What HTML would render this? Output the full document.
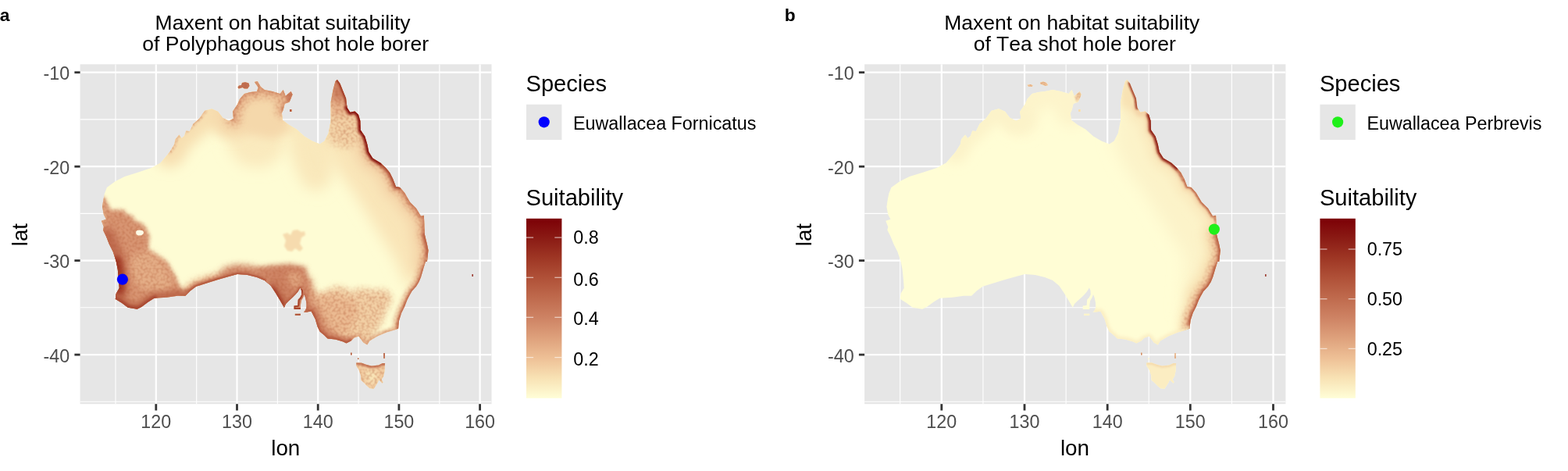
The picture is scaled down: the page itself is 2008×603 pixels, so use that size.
<!DOCTYPE html>
<html lang="en"><head><meta charset="utf-8"><title>Maxent habitat suitability</title>
<style>html,body{margin:0;padding:0;background:#fff}body{width:2008px;height:603px;overflow:hidden}svg{display:block}text{font-family:'Liberation Sans', Arial, Helvetica, sans-serif;font-kerning:none}</style></head><body>
<svg width="2008" height="603" viewBox="0 0 2008 603">
<rect width="2008" height="603" fill="#fff"/>
<defs><linearGradient id="cb" x1="0" y1="0" x2="0" y2="1"><stop offset="0.000" stop-color="#7c0006"/><stop offset="0.106" stop-color="#8a1a14"/><stop offset="0.218" stop-color="#9e3624"/><stop offset="0.330" stop-color="#b05138"/><stop offset="0.441" stop-color="#bf6a4d"/><stop offset="0.553" stop-color="#ce8364"/><stop offset="0.665" stop-color="#dea17c"/><stop offset="0.777" stop-color="#eec096"/><stop offset="0.888" stop-color="#f8e2b4"/><stop offset="1.000" stop-color="#fffed7"/></linearGradient></defs>
<g id="panel-a">
<clipPath id="clip-a"><rect x="102.6" y="82.3" width="526.9" height="434.9"/></clipPath>
<rect x="102.6" y="82.3" width="526.9" height="434.9" fill="#e6e6e6"/>
<g stroke="#fff" clip-path="url(#clip-a)"><line x1="148.0" x2="148.0" y1="82.3" y2="517.2" stroke-width="1.1"/><line x1="251.7" x2="251.7" y1="82.3" y2="517.2" stroke-width="1.1"/><line x1="355.4" x2="355.4" y1="82.3" y2="517.2" stroke-width="1.1"/><line x1="459.1" x2="459.1" y1="82.3" y2="517.2" stroke-width="1.1"/><line x1="562.8" x2="562.8" y1="82.3" y2="517.2" stroke-width="1.1"/><line x1="102.6" x2="629.5" y1="152.9" y2="152.9" stroke-width="1.1"/><line x1="102.6" x2="629.5" y1="273.4" y2="273.4" stroke-width="1.1"/><line x1="102.6" x2="629.5" y1="393.8" y2="393.8" stroke-width="1.1"/><line x1="102.6" x2="629.5" y1="514.3" y2="514.3" stroke-width="1.1"/><line x1="199.8" x2="199.8" y1="82.3" y2="517.2" stroke-width="2.2"/><line x1="303.5" x2="303.5" y1="82.3" y2="517.2" stroke-width="2.2"/><line x1="407.2" x2="407.2" y1="82.3" y2="517.2" stroke-width="2.2"/><line x1="510.9" x2="510.9" y1="82.3" y2="517.2" stroke-width="2.2"/><line x1="614.6" x2="614.6" y1="82.3" y2="517.2" stroke-width="2.2"/><line x1="102.6" x2="629.5" y1="92.7" y2="92.7" stroke-width="2.2"/><line x1="102.6" x2="629.5" y1="213.2" y2="213.2" stroke-width="2.2"/><line x1="102.6" x2="629.5" y1="333.6" y2="333.6" stroke-width="2.2"/><line x1="102.6" x2="629.5" y1="454.1" y2="454.1" stroke-width="2.2"/></g>
<g clip-path="url(#clip-a)"><defs><filter id="bl0_6" filterUnits="userSpaceOnUse" x="0" y="0" width="2008" height="603"><feGaussianBlur stdDeviation="0.6"/></filter><filter id="bl0_8" filterUnits="userSpaceOnUse" x="0" y="0" width="2008" height="603"><feGaussianBlur stdDeviation="0.8"/></filter><filter id="bl0_9" filterUnits="userSpaceOnUse" x="0" y="0" width="2008" height="603"><feGaussianBlur stdDeviation="0.9"/></filter><filter id="bl1_0" filterUnits="userSpaceOnUse" x="0" y="0" width="2008" height="603"><feGaussianBlur stdDeviation="1.0"/></filter><filter id="bl1_2" filterUnits="userSpaceOnUse" x="0" y="0" width="2008" height="603"><feGaussianBlur stdDeviation="1.2"/></filter><filter id="bl1_4" filterUnits="userSpaceOnUse" x="0" y="0" width="2008" height="603"><feGaussianBlur stdDeviation="1.4"/></filter><filter id="bl1_5" filterUnits="userSpaceOnUse" x="0" y="0" width="2008" height="603"><feGaussianBlur stdDeviation="1.5"/></filter><filter id="bl1_8" filterUnits="userSpaceOnUse" x="0" y="0" width="2008" height="603"><feGaussianBlur stdDeviation="1.8"/></filter><filter id="bl2_0" filterUnits="userSpaceOnUse" x="0" y="0" width="2008" height="603"><feGaussianBlur stdDeviation="2.0"/></filter><filter id="bl2_2" filterUnits="userSpaceOnUse" x="0" y="0" width="2008" height="603"><feGaussianBlur stdDeviation="2.2"/></filter><filter id="bl2_5" filterUnits="userSpaceOnUse" x="0" y="0" width="2008" height="603"><feGaussianBlur stdDeviation="2.5"/></filter><filter id="bl3_0" filterUnits="userSpaceOnUse" x="0" y="0" width="2008" height="603"><feGaussianBlur stdDeviation="3.0"/></filter><filter id="bl3_5" filterUnits="userSpaceOnUse" x="0" y="0" width="2008" height="603"><feGaussianBlur stdDeviation="3.5"/></filter><filter id="bl4_0" filterUnits="userSpaceOnUse" x="0" y="0" width="2008" height="603"><feGaussianBlur stdDeviation="4.0"/></filter><filter id="bl5_0" filterUnits="userSpaceOnUse" x="0" y="0" width="2008" height="603"><feGaussianBlur stdDeviation="5.0"/></filter><filter id="bl6_0" filterUnits="userSpaceOnUse" x="0" y="0" width="2008" height="603"><feGaussianBlur stdDeviation="6.0"/></filter><filter id="bl7_0" filterUnits="userSpaceOnUse" x="0" y="0" width="2008" height="603"><feGaussianBlur stdDeviation="7.0"/></filter><filter id="bl8_0" filterUnits="userSpaceOnUse" x="0" y="0" width="2008" height="603"><feGaussianBlur stdDeviation="8.0"/></filter><filter id="bl9_0" filterUnits="userSpaceOnUse" x="0" y="0" width="2008" height="603"><feGaussianBlur stdDeviation="9.0"/></filter><filter id="bl10_0" filterUnits="userSpaceOnUse" x="0" y="0" width="2008" height="603"><feGaussianBlur stdDeviation="10.0"/></filter><filter id="grain" filterUnits="userSpaceOnUse" x="0" y="0" width="2008" height="603" color-interpolation-filters="sRGB"><feTurbulence type="fractalNoise" baseFrequency="0.3" numOctaves="1" seed="7" result="n"/><feColorMatrix in="n" type="matrix" values="0 0 0 0 0.70  0 0 0 0 0.36  0 0 0 0 0.22  0.9 0 0 0 -0.36"/><feComposite in2="SourceGraphic" operator="in"/></filter></defs><clipPath id="land-a"><path d="M193.6 215.0 L205.5 208.4 L217.4 194.5 L223.4 184.5 L224.4 178.6 L229.4 172.6 L232.4 177.0 L236.0 174.0 L238.3 167.6 L243.0 168.0 L247.3 158.7 L255.2 151.7 L262.2 141.8 L271.2 139.2 L279.1 142.8 L285.1 150.7 L293.0 154.7 L299.0 151.7 L298.0 142.8 L304.0 133.8 L307.0 126.8 L313.0 119.9 L320.9 117.9 L328.9 116.9 L330.8 111.9 L325.9 104.9 L329.8 104.0 L333.8 110.9 L338.8 114.9 L348.7 116.9 L358.7 119.9 L362.7 114.9 L365.7 122.9 L372.6 116.9 L374.6 120.9 L370.6 130.8 L364.7 132.8 L362.7 140.8 L360.9 144.7 L361.9 153.7 L369.8 159.7 L379.8 165.6 L389.7 174.6 L399.7 180.6 L409.6 184.5 L415.6 180.6 L420.6 170.6 L423.6 154.7 L423.6 130.8 L426.5 114.9 L429.5 104.0 L431.9 102.0 L435.5 106.9 L439.5 116.9 L443.1 125.8 L444.5 137.8 L448.4 143.7 L454.4 142.4 L459.0 146.7 L461.4 154.7 L461.8 166.6 L467.3 174.6 L470.3 184.5 L472.3 194.5 L477.3 202.4 L487.2 208.4 L494.2 215.0 L499.2 221.0 L503.2 228.9 L507.1 238.9 L512.1 239.9 L518.1 246.8 L525.0 258.8 L533.0 266.7 L539.0 276.7 L542.9 275.7 L543.3 286.6 L543.9 300.6 L546.9 312.5 L548.5 320.5 L546.9 335.0 L544.9 335.0 L541.9 344.9 L539.0 354.9 L536.5 360.9 L533.0 366.8 L527.5 372.8 L523.5 380.0 L521.5 384.0 L518.1 392.7 L514.1 400.7 L511.1 410.6 L510.1 420.6 L505.1 422.5 L495.2 425.5 L483.3 430.5 L473.3 436.5 L470.3 441.4 L465.3 438.5 L462.4 434.5 L459.4 430.5 L453.4 432.5 L449.4 436.5 L443.5 439.5 L439.5 437.5 L429.5 434.5 L419.6 433.5 L415.6 429.5 L409.6 424.5 L406.7 418.6 L403.7 408.6 L399.7 400.7 L398.5 398.5 L393.0 399.5 L389.0 399.5 L391.0 397.5 L392.5 394.0 L392.5 388.0 L391.0 381.0 L389.5 377.0 L388.0 381.0 L385.8 385.0 L385.0 390.0 L384.8 396.0 L376.5 396.0 L376.5 391.5 L381.3 391.0 L381.8 383.5 L384.3 381.0 L386.3 377.0 L386.0 372.0 L384.5 368.5 L381.5 373.5 L378.0 377.5 L374.0 381.5 L369.5 385.5 L366.0 389.0 L363.9 393.7 L358.7 384.7 L352.7 374.8 L346.8 365.8 L338.8 358.9 L328.9 354.9 L316.9 351.9 L304.0 350.9 L293.0 353.9 L279.1 357.9 L263.2 362.9 L251.3 366.8 L243.3 372.8 L237.3 378.8 L227.4 378.8 L213.5 380.8 L197.5 381.8 L189.6 386.7 L181.6 392.7 L175.7 395.7 L163.7 393.7 L155.8 387.7 L147.8 382.8 L148.8 375.8 L152.8 368.8 L152.0 358.0 L150.8 344.9 L148.8 335.0 L144.8 322.4 L139.8 312.5 L135.9 302.5 L131.9 294.6 L132.9 290.6 L129.9 282.7 L135.9 280.7 L132.9 274.7 L131.0 264.7 L132.5 254.8 L133.9 247.8 L136.9 239.9 L147.8 231.9 L159.7 225.9 L175.7 221.0ZM456.3 464.4 L456.3 468.4 L459.3 472.9 L461.8 479.9 L462.3 486.8 L465.8 489.8 L470.7 494.8 L473.7 497.3 L478.7 497.8 L481.2 493.8 L483.7 489.8 L485.2 486.3 L489.7 490.8 L490.6 489.3 L488.7 485.8 L491.1 481.8 L492.6 474.9 L493.1 464.9 L489.7 464.9 L484.7 467.4 L475.7 468.4 L469.8 466.9 L462.8 464.4ZM304.5 111.5 L306.0 109.5 L309.0 109.0 L310.0 106.0 L314.0 105.0 L318.5 106.5 L319.5 110.0 L317.0 113.5 L313.0 113.5 L310.5 112.0 L308.0 113.0 L305.5 113.5ZM371.0 140.0 L373.5 140.0 L373.5 143.0 L371.0 143.0ZM377.8 401.7 L384.8 401.7 L384.8 403.8 L377.8 403.8ZM449.0 451.5 L450.6 451.5 L450.6 454.6 L449.0 454.6ZM491.2 452.0 L492.8 452.0 L492.8 459.0 L491.2 459.0ZM604.5 351.0 L605.8 351.0 L605.8 354.0 L604.5 354.0ZM458.0 458.3 L459.6 458.3 L459.6 460.0 L458.0 460.0Z"/></clipPath><g clip-path="url(#land-a)"><rect x="102.6" y="82.3" width="526.9" height="434.9" fill="#fefcd4"/><polygon points="296.0,150.0 330.0,140.0 362.0,150.0 372.0,170.0 360.0,200.0 340.0,215.0 310.0,212.0 292.0,190.0" fill="#faeabe" filter="url(#bl9_0)"/><polygon points="372.0,165.0 395.0,172.0 420.0,178.0 430.0,200.0 425.0,230.0 410.0,245.0 390.0,240.0 378.0,215.0 370.0,190.0" fill="#f9e8bb" filter="url(#bl9_0)"/><polyline points="217.4,194.5 223.4,184.5 224.4,178.6 229.4,172.6 238.3,167.6 247.3,158.7 255.2,151.7 262.2,141.8 271.2,139.2 279.1,142.8 285.1,150.7 293.0,154.7 299.0,151.7" fill="none" stroke="#f7dfb1" stroke-width="40" stroke-linejoin="round" stroke-linecap="round" filter="url(#bl8_0)"/><polyline points="299.0,151.7 298.0,142.8 304.0,133.8 307.0,126.8 313.0,119.9 320.9,117.9 328.9,116.9 330.8,111.9 325.9,104.9 329.8,104.0 333.8,110.9 338.8,114.9 348.7,116.9 358.7,119.9 362.7,114.9 365.7,122.9 372.6,116.9 374.6,120.9 370.6,130.8 364.7,132.8 362.7,140.8" fill="none" stroke="#f5d8ab" stroke-width="46" stroke-linejoin="round" stroke-linecap="round" filter="url(#bl8_0)"/><polyline points="362.7,140.8 360.9,144.7 361.9,153.7 369.8,159.7 379.8,165.6 389.7,174.6 399.7,180.6 409.6,184.5 415.6,180.6 420.6,170.6 423.6,154.7" fill="none" stroke="#f9e8bb" stroke-width="20" stroke-linejoin="round" stroke-linecap="round" filter="url(#bl6_0)"/><polygon points="300.0,118.0 330.0,104.0 375.0,114.0 372.0,135.0 366.0,150.0 372.0,165.0 350.0,178.0 320.0,172.0 300.0,160.0 296.0,140.0" fill="#f5d8ab" filter="url(#bl6_0)"/><polyline points="299.0,151.7 298.0,142.8 304.0,133.8 307.0,126.8 313.0,119.9 320.9,117.9 328.9,116.9 330.8,111.9 325.9,104.9 329.8,104.0 333.8,110.9 338.8,114.9 348.7,116.9 358.7,119.9 362.7,114.9 365.7,122.9 372.6,116.9 374.6,120.9 370.6,130.8 364.7,132.8 362.7,140.8" fill="none" stroke="#ebba91" stroke-width="20" stroke-linejoin="round" stroke-linecap="round" filter="url(#bl4_0)"/><polyline points="299.0,151.7 298.0,142.8 304.0,133.8 307.0,126.8 313.0,119.9 320.9,117.9 328.9,116.9 330.8,111.9 325.9,104.9 329.8,104.0 333.8,110.9 338.8,114.9 348.7,116.9 358.7,119.9 362.7,114.9 365.7,122.9 372.6,116.9 374.6,120.9 370.6,130.8 364.7,132.8 362.7,140.8" fill="none" stroke="#db9b77" stroke-width="6" stroke-linejoin="round" stroke-linecap="round" filter="url(#bl1_5)"/><polyline points="217.4,194.5 223.4,184.5 224.4,178.6 229.4,172.6 238.3,167.6 247.3,158.7 255.2,151.7 262.2,141.8" fill="none" stroke="#f0c79c" stroke-width="5" stroke-linejoin="round" stroke-linecap="round" filter="url(#bl1_5)"/><polygon points="366.0,116.0 376.0,115.0 376.0,128.0 368.0,131.0 366.0,124.0" fill="#cb7e5f" filter="url(#bl1_5)"/><polygon points="420.0,100.0 450.0,100.0 470.0,160.0 500.0,210.0 530.0,255.0 550.0,290.0 552.0,340.0 545.0,360.0 520.0,365.0 505.0,330.0 480.0,290.0 455.0,250.0 430.0,215.0 415.0,185.0" fill="#f9e5b8" filter="url(#bl9_0)"/><polyline points="444.5,137.8 448.4,143.7 454.4,142.4 459.0,146.7 461.4,154.7 461.8,166.6 467.3,174.6 470.3,184.5 472.3,194.5 477.3,202.4 487.2,208.4 494.2,215.0 499.2,221.0 503.2,228.9 507.1,238.9 512.1,239.9 518.1,246.8 525.0,258.8 533.0,266.7 539.0,276.7 542.9,275.7 543.3,286.6 543.9,300.6 546.9,312.5 548.5,320.5 546.9,335.0" fill="none" stroke="#f4d4a8" stroke-width="36" stroke-linejoin="round" stroke-linecap="round" filter="url(#bl7_0)"/><polyline points="444.5,137.8 448.4,143.7 454.4,142.4 459.0,146.7 461.4,154.7 461.8,166.6 467.3,174.6 470.3,184.5 472.3,194.5 477.3,202.4 487.2,208.4 494.2,215.0 499.2,221.0 503.2,228.9 507.1,238.9 512.1,239.9 518.1,246.8 525.0,258.8 533.0,266.7 539.0,276.7 542.9,275.7 543.3,286.6 543.9,300.6 546.9,312.5 548.5,320.5 546.9,335.0" fill="none" stroke="#ebba91" stroke-width="16" stroke-linejoin="round" stroke-linecap="round" filter="url(#bl3_0)"/><polygon points="418.0,95.0 450.0,95.0 462.0,150.0 468.0,175.0 445.0,190.0 422.0,182.0" fill="#f3d1a5" filter="url(#bl5_0)"/><polygon points="420.0,95.0 448.0,95.0 450.0,135.0 448.0,148.0 424.0,148.0 420.0,125.0" fill="#e8b48c" filter="url(#bl5_0)"/><polygon points="422.0,95.0 442.0,95.0 446.0,120.0 443.0,130.0 425.0,129.0 422.0,115.0" fill="#ce8364" filter="url(#bl4_0)"/><polyline points="431.9,102.0 435.5,106.9 439.5,116.9 443.1,125.8 444.5,137.8" fill="none" stroke="#9e3624" stroke-width="4.5" stroke-linejoin="round" stroke-linecap="round" filter="url(#bl1_0)"/><polyline points="444.5,137.8 448.4,143.7 454.4,142.4 459.0,146.7 461.4,154.7 461.8,166.6 467.3,174.6 470.3,184.5 472.3,194.5 477.3,202.4 487.2,208.4 494.2,215.0 499.2,221.0 503.2,228.9 507.1,238.9 512.1,239.9" fill="none" stroke="#ce8364" stroke-width="9" stroke-linejoin="round" stroke-linecap="round" filter="url(#bl1_8)"/><polyline points="512.1,239.9 518.1,246.8 525.0,258.8 533.0,266.7 539.0,276.7 542.9,275.7 543.3,286.6 543.9,300.6" fill="none" stroke="#dea17c" stroke-width="8" stroke-linejoin="round" stroke-linecap="round" filter="url(#bl1_8)"/><polyline points="543.9,300.6 546.9,312.5 548.5,320.5 546.9,335.0" fill="none" stroke="#d18969" stroke-width="9" stroke-linejoin="round" stroke-linecap="round" filter="url(#bl1_8)"/><polyline points="512.1,239.9 518.1,246.8 525.0,258.8 533.0,266.7 539.0,276.7 542.9,275.7 543.3,286.6 543.9,300.6" fill="none" stroke="#ce8364" stroke-width="4" stroke-linejoin="round" stroke-linecap="round" filter="url(#bl0_9)"/><polyline points="543.9,300.6 546.9,312.5 548.5,320.5 546.9,335.0" fill="none" stroke="#bc6549" stroke-width="5" stroke-linejoin="round" stroke-linecap="round" filter="url(#bl0_9)"/><polyline points="487.2,208.4 494.2,215.0 499.2,221.0 503.2,228.9 507.1,238.9 512.1,239.9" fill="none" stroke="#ac4c34" stroke-width="4.5" stroke-linejoin="round" stroke-linecap="round" filter="url(#bl0_9)"/><polyline points="444.5,137.8 448.4,143.7 454.4,142.4 459.0,146.7 461.4,154.7 461.8,166.6 467.3,174.6 470.3,184.5 472.3,194.5 477.3,202.4 487.2,208.4" fill="none" stroke="#840f0e" stroke-width="5.5" stroke-linejoin="round" stroke-linecap="round" filter="url(#bl0_8)"/><polygon points="362.0,300.0 368.0,298.0 372.0,301.0 375.0,295.0 381.0,294.0 386.0,297.0 390.0,296.0 391.0,301.0 386.0,304.0 384.0,312.0 388.0,318.0 384.0,322.0 378.0,318.0 374.0,322.0 368.0,321.0 364.0,315.0 366.0,308.0" fill="#f6dbae" filter="url(#bl1_2)"/><polygon points="386.0,362.0 398.0,370.0 410.0,378.0 420.0,372.0 428.0,367.0 440.0,368.0 452.0,374.0 460.0,369.0 470.0,370.0 480.0,372.0 492.0,370.0 500.0,376.0 502.0,385.0 496.0,395.0 492.0,405.0 488.0,415.0 480.0,425.0 470.0,445.0 440.0,445.0 405.0,430.0 395.0,405.0 380.0,400.0" fill="#f2cfa4" filter="url(#bl4_0)"/><polygon points="402.0,378.0 420.0,376.0 440.0,380.0 455.0,385.0 460.0,400.0 452.0,415.0 445.0,428.0 420.0,430.0 410.0,415.0 402.0,400.0" fill="#ebba91" filter="url(#bl4_0)"/><polyline points="388.0,364.0 391.0,385.0 393.0,397.0 400.0,402.0 405.0,415.0 410.0,425.0 420.0,433.0" fill="none" stroke="#d89572" stroke-width="24" stroke-linejoin="round" stroke-linecap="round" filter="url(#bl4_0)"/><polyline points="391.0,397.5 393.0,399.5 398.5,398.5 401.0,402.0 403.7,408.6 406.7,418.6 409.6,424.5 415.6,429.5 419.6,433.5 429.5,434.5 439.5,437.5 443.5,439.5 449.4,436.5" fill="none" stroke="#cb7e5f" stroke-width="13" stroke-linejoin="round" stroke-linecap="round" filter="url(#bl2_5)"/><polyline points="391.0,397.5 393.0,399.5 398.5,398.5 401.0,402.0 403.7,408.6 406.7,418.6 409.6,424.5 415.6,429.5 419.6,433.5 429.5,434.5 439.5,437.5 443.5,439.5 449.4,436.5" fill="none" stroke="#b85d42" stroke-width="5" stroke-linejoin="round" stroke-linecap="round" filter="url(#bl1_2)"/><polyline points="453.4,432.5 459.4,430.5 462.4,434.5 465.3,438.5 470.3,441.4 473.3,436.5 483.3,430.5 495.2,425.5 505.1,422.5 510.1,420.6" fill="none" stroke="#e1a781" stroke-width="6" stroke-linejoin="round" stroke-linecap="round" filter="url(#bl2_0)"/><polyline points="546.9,335.0 541.9,344.9 539.0,354.9 536.5,360.9 533.0,366.8 527.5,372.8 523.5,380.0 521.5,384.0 518.1,392.7 514.1,400.7 511.1,410.6 510.1,420.6" fill="none" stroke="#e4ad86" stroke-width="11" stroke-linejoin="round" stroke-linecap="round" filter="url(#bl3_0)"/><polyline points="546.9,335.0 541.9,344.9 539.0,354.9 536.5,360.9 533.0,366.8 527.5,372.8 523.5,380.0 521.5,384.0 518.1,392.7 514.1,400.7 511.1,410.6 510.1,420.6" fill="none" stroke="#c26f52" stroke-width="4.5" stroke-linejoin="round" stroke-linecap="round" filter="url(#bl1_0)"/><polygon points="325.0,345.0 345.0,340.0 372.0,338.0 392.0,342.0 394.0,372.0 386.0,392.0 365.0,397.0 352.0,378.0 340.0,362.0" fill="#ce8364" filter="url(#bl3_0)"/><polygon points="370.0,347.0 386.0,350.0 388.0,362.0 381.0,370.0 372.0,366.0 368.0,355.0" fill="#dea17c" filter="url(#bl3_0)"/><polyline points="338.8,358.9 346.8,365.8 352.7,374.8 358.7,384.7 363.9,393.7" fill="none" stroke="#bc6549" stroke-width="14" stroke-linejoin="round" stroke-linecap="round" filter="url(#bl3_0)"/><polyline points="338.8,358.9 346.8,365.8 352.7,374.8 358.7,384.7 363.9,393.7" fill="none" stroke="#a5412c" stroke-width="6" stroke-linejoin="round" stroke-linecap="round" filter="url(#bl1_5)"/><polyline points="363.9,393.7 366.0,389.0 369.5,385.5 374.0,381.5 378.0,377.5 381.5,373.5 384.5,368.5" fill="none" stroke="#b85d42" stroke-width="4" stroke-linejoin="round" stroke-linecap="round" filter="url(#bl1_2)"/><polyline points="386.0,372.0 386.3,377.0 384.3,381.0 381.8,383.5 381.3,391.0 376.5,391.5 376.5,396.0 384.8,396.0" fill="none" stroke="#a5412c" stroke-width="4" stroke-linejoin="round" stroke-linecap="round" filter="url(#bl0_6)"/><polyline points="389.5,377.0 391.0,381.0 392.5,388.0 392.5,394.0 391.0,397.5" fill="none" stroke="#c26f52" stroke-width="5" stroke-linejoin="round" stroke-linecap="round" filter="url(#bl1_5)"/><polyline points="243.3,372.8 251.3,366.8 263.2,362.9 279.1,357.9" fill="none" stroke="#ebba91" stroke-width="16" stroke-linejoin="round" stroke-linecap="round" filter="url(#bl4_0)"/><polyline points="293.0,353.9 304.0,350.9 316.9,351.9 328.9,354.9 338.8,358.9" fill="none" stroke="#d18969" stroke-width="24" stroke-linejoin="round" stroke-linecap="round" filter="url(#bl4_0)"/><polyline points="237.0,379.0 243.3,372.8 251.3,366.8 263.2,362.9 279.1,357.9 293.0,353.9 304.0,350.9 316.9,351.9 328.9,354.9 338.8,358.9" fill="none" stroke="#d18969" stroke-width="9" stroke-linejoin="round" stroke-linecap="round" filter="url(#bl2_2)"/><polyline points="237.0,379.0 243.3,372.8 251.3,366.8 263.2,362.9 279.1,357.9 293.0,353.9 304.0,350.9 316.9,351.9 328.9,354.9 338.8,358.9" fill="none" stroke="#b3563c" stroke-width="4.5" stroke-linejoin="round" stroke-linecap="round" filter="url(#bl1_2)"/><polygon points="125.0,250.0 131.9,254.8 135.9,257.8 141.8,268.7 158.7,268.7 162.7,274.7 170.7,276.7 171.7,282.6 178.6,284.6 185.6,289.6 191.6,302.5 189.6,318.5 195.6,324.4 203.5,328.4 213.5,335.0 219.4,344.9 225.4,354.9 229.4,364.8 233.4,372.8 240.0,380.0 230.0,390.0 170.0,402.0 140.0,390.0 120.0,300.0" fill="#d89572" filter="url(#bl2_5)"/><polygon points="172.0,325.0 192.0,322.0 208.0,335.0 218.0,352.0 222.0,366.0 208.0,374.0 182.0,370.0 168.0,355.0 166.0,338.0" fill="#e4ad86" filter="url(#bl4_0)"/><polyline points="131.0,256.0 130.0,265.0 133.0,275.0 131.0,283.0 132.0,292.0 136.0,302.5" fill="none" stroke="#e1a781" stroke-width="8" stroke-linejoin="round" stroke-linecap="round" filter="url(#bl2_5)"/><polyline points="136.0,302.5 140.0,312.5 145.0,322.4 149.0,335.0 151.0,345.0 152.0,358.0 153.0,369.0 149.0,376.0 148.0,383.0" fill="none" stroke="#c26f52" stroke-width="24" stroke-linejoin="round" stroke-linecap="round" filter="url(#bl5_0)"/><polyline points="136.0,302.5 140.0,312.5 145.0,322.4 149.0,335.0" fill="none" stroke="#bf6a4d" stroke-width="10" stroke-linejoin="round" stroke-linecap="round" filter="url(#bl2_5)"/><polyline points="149.0,335.0 151.0,345.0 152.0,358.0 153.0,369.0 149.0,376.0 148.0,383.0" fill="none" stroke="#a5412c" stroke-width="15" stroke-linejoin="round" stroke-linecap="round" filter="url(#bl2_5)"/><polyline points="149.0,335.0 151.0,345.0 152.0,358.0 153.0,369.0 149.0,376.0 148.0,383.0" fill="none" stroke="#9e3624" stroke-width="5" stroke-linejoin="round" stroke-linecap="round" filter="url(#bl1_2)"/><polyline points="148.0,383.0 156.0,388.0 164.0,394.0 176.0,396.0 182.0,393.0 190.0,387.0 198.0,382.0 214.0,381.0 227.0,379.0 237.0,379.0" fill="none" stroke="#bf6a4d" stroke-width="16" stroke-linejoin="round" stroke-linecap="round" filter="url(#bl3_5)"/><polyline points="148.0,383.0 156.0,388.0 164.0,394.0 176.0,396.0 182.0,393.0 190.0,387.0 198.0,382.0" fill="none" stroke="#a94630" stroke-width="7" stroke-linejoin="round" stroke-linecap="round" filter="url(#bl1_8)"/><polygon points="303.0,104.0 321.0,104.0 321.0,116.0 303.0,116.0" fill="#c26f52" filter="url(#bl0_8)"/><polygon points="370.0,139.0 375.0,139.0 375.0,144.0 370.0,144.0" fill="#b85d42"/><polygon points="376.0,400.0 386.0,400.0 386.0,405.0 376.0,405.0" fill="#ac4c34"/><polygon points="448.0,450.0 452.0,450.0 452.0,456.0 448.0,456.0" fill="#b05138"/><polygon points="490.0,451.0 494.0,451.0 494.0,460.0 490.0,460.0" fill="#b05138"/><polygon points="603.0,350.0 607.0,350.0 607.0,355.0 603.0,355.0" fill="#830c0d"/><polygon points="452.0,460.0 497.0,460.0 497.0,500.0 452.0,500.0" fill="#f1ca9f" filter="url(#bl2_0)"/><polygon points="468.0,474.0 482.0,474.0 484.0,486.0 476.0,493.0 468.0,486.0" fill="#f9e5b8" filter="url(#bl3_0)"/><polygon points="458.0,458.3 459.6,458.3 459.6,460.0 458.0,460.0" fill="#b05138"/><polyline points="455.0,465.0 462.8,465.0 469.8,467.5 475.7,469.0 484.7,468.0 489.7,465.5 494.0,465.5" fill="none" stroke="#c67658" stroke-width="4.5" stroke-linejoin="round" stroke-linecap="round" filter="url(#bl1_0)"/><g filter="url(#grain)"><polyline points="299.0,151.7 298.0,142.8 304.0,133.8 307.0,126.8 313.0,119.9 320.9,117.9 328.9,116.9 330.8,111.9 325.9,104.9 329.8,104.0 333.8,110.9 338.8,114.9 348.7,116.9 358.7,119.9 362.7,114.9 365.7,122.9 372.6,116.9 374.6,120.9 370.6,130.8 364.7,132.8 362.7,140.8" fill="none" stroke="#ebba91" stroke-width="20" stroke-linejoin="round" stroke-linecap="round" filter="url(#bl4_0)"/><polyline points="299.0,151.7 298.0,142.8 304.0,133.8 307.0,126.8 313.0,119.9 320.9,117.9 328.9,116.9 330.8,111.9 325.9,104.9 329.8,104.0 333.8,110.9 338.8,114.9 348.7,116.9 358.7,119.9 362.7,114.9 365.7,122.9 372.6,116.9 374.6,120.9 370.6,130.8 364.7,132.8 362.7,140.8" fill="none" stroke="#db9b77" stroke-width="6" stroke-linejoin="round" stroke-linecap="round" filter="url(#bl1_5)"/><polyline points="217.4,194.5 223.4,184.5 224.4,178.6 229.4,172.6 238.3,167.6 247.3,158.7 255.2,151.7 262.2,141.8" fill="none" stroke="#f0c79c" stroke-width="5" stroke-linejoin="round" stroke-linecap="round" filter="url(#bl1_5)"/><polygon points="366.0,116.0 376.0,115.0 376.0,128.0 368.0,131.0 366.0,124.0" fill="#cb7e5f" filter="url(#bl1_5)"/><polyline points="444.5,137.8 448.4,143.7 454.4,142.4 459.0,146.7 461.4,154.7 461.8,166.6 467.3,174.6 470.3,184.5 472.3,194.5 477.3,202.4 487.2,208.4 494.2,215.0 499.2,221.0 503.2,228.9 507.1,238.9 512.1,239.9 518.1,246.8 525.0,258.8 533.0,266.7 539.0,276.7 542.9,275.7 543.3,286.6 543.9,300.6 546.9,312.5 548.5,320.5 546.9,335.0" fill="none" stroke="#ebba91" stroke-width="16" stroke-linejoin="round" stroke-linecap="round" filter="url(#bl3_0)"/><polygon points="418.0,95.0 450.0,95.0 462.0,150.0 468.0,175.0 445.0,190.0 422.0,182.0" fill="#f3d1a5" filter="url(#bl5_0)"/><polygon points="420.0,95.0 448.0,95.0 450.0,135.0 448.0,148.0 424.0,148.0 420.0,125.0" fill="#e8b48c" filter="url(#bl5_0)"/><polygon points="422.0,95.0 442.0,95.0 446.0,120.0 443.0,130.0 425.0,129.0 422.0,115.0" fill="#ce8364" filter="url(#bl4_0)"/><polyline points="431.9,102.0 435.5,106.9 439.5,116.9 443.1,125.8 444.5,137.8" fill="none" stroke="#9e3624" stroke-width="4.5" stroke-linejoin="round" stroke-linecap="round" filter="url(#bl1_0)"/><polyline points="444.5,137.8 448.4,143.7 454.4,142.4 459.0,146.7 461.4,154.7 461.8,166.6 467.3,174.6 470.3,184.5 472.3,194.5 477.3,202.4 487.2,208.4 494.2,215.0 499.2,221.0 503.2,228.9 507.1,238.9 512.1,239.9" fill="none" stroke="#ce8364" stroke-width="9" stroke-linejoin="round" stroke-linecap="round" filter="url(#bl1_8)"/><polyline points="512.1,239.9 518.1,246.8 525.0,258.8 533.0,266.7 539.0,276.7 542.9,275.7 543.3,286.6 543.9,300.6" fill="none" stroke="#dea17c" stroke-width="8" stroke-linejoin="round" stroke-linecap="round" filter="url(#bl1_8)"/><polyline points="543.9,300.6 546.9,312.5 548.5,320.5 546.9,335.0" fill="none" stroke="#d18969" stroke-width="9" stroke-linejoin="round" stroke-linecap="round" filter="url(#bl1_8)"/><polyline points="512.1,239.9 518.1,246.8 525.0,258.8 533.0,266.7 539.0,276.7 542.9,275.7 543.3,286.6 543.9,300.6" fill="none" stroke="#ce8364" stroke-width="4" stroke-linejoin="round" stroke-linecap="round" filter="url(#bl0_9)"/><polyline points="543.9,300.6 546.9,312.5 548.5,320.5 546.9,335.0" fill="none" stroke="#bc6549" stroke-width="5" stroke-linejoin="round" stroke-linecap="round" filter="url(#bl0_9)"/><polyline points="487.2,208.4 494.2,215.0 499.2,221.0 503.2,228.9 507.1,238.9 512.1,239.9" fill="none" stroke="#ac4c34" stroke-width="4.5" stroke-linejoin="round" stroke-linecap="round" filter="url(#bl0_9)"/><polyline points="444.5,137.8 448.4,143.7 454.4,142.4 459.0,146.7 461.4,154.7 461.8,166.6 467.3,174.6 470.3,184.5 472.3,194.5 477.3,202.4 487.2,208.4" fill="none" stroke="#840f0e" stroke-width="5.5" stroke-linejoin="round" stroke-linecap="round" filter="url(#bl0_8)"/><polygon points="386.0,362.0 398.0,370.0 410.0,378.0 420.0,372.0 428.0,367.0 440.0,368.0 452.0,374.0 460.0,369.0 470.0,370.0 480.0,372.0 492.0,370.0 500.0,376.0 502.0,385.0 496.0,395.0 492.0,405.0 488.0,415.0 480.0,425.0 470.0,445.0 440.0,445.0 405.0,430.0 395.0,405.0 380.0,400.0" fill="#f2cfa4" filter="url(#bl4_0)"/><polygon points="402.0,378.0 420.0,376.0 440.0,380.0 455.0,385.0 460.0,400.0 452.0,415.0 445.0,428.0 420.0,430.0 410.0,415.0 402.0,400.0" fill="#ebba91" filter="url(#bl4_0)"/><polyline points="388.0,364.0 391.0,385.0 393.0,397.0 400.0,402.0 405.0,415.0 410.0,425.0 420.0,433.0" fill="none" stroke="#d89572" stroke-width="24" stroke-linejoin="round" stroke-linecap="round" filter="url(#bl4_0)"/><polyline points="391.0,397.5 393.0,399.5 398.5,398.5 401.0,402.0 403.7,408.6 406.7,418.6 409.6,424.5 415.6,429.5 419.6,433.5 429.5,434.5 439.5,437.5 443.5,439.5 449.4,436.5" fill="none" stroke="#cb7e5f" stroke-width="13" stroke-linejoin="round" stroke-linecap="round" filter="url(#bl2_5)"/><polyline points="391.0,397.5 393.0,399.5 398.5,398.5 401.0,402.0 403.7,408.6 406.7,418.6 409.6,424.5 415.6,429.5 419.6,433.5 429.5,434.5 439.5,437.5 443.5,439.5 449.4,436.5" fill="none" stroke="#b85d42" stroke-width="5" stroke-linejoin="round" stroke-linecap="round" filter="url(#bl1_2)"/><polyline points="453.4,432.5 459.4,430.5 462.4,434.5 465.3,438.5 470.3,441.4 473.3,436.5 483.3,430.5 495.2,425.5 505.1,422.5 510.1,420.6" fill="none" stroke="#e1a781" stroke-width="6" stroke-linejoin="round" stroke-linecap="round" filter="url(#bl2_0)"/><polyline points="546.9,335.0 541.9,344.9 539.0,354.9 536.5,360.9 533.0,366.8 527.5,372.8 523.5,380.0 521.5,384.0 518.1,392.7 514.1,400.7 511.1,410.6 510.1,420.6" fill="none" stroke="#e4ad86" stroke-width="11" stroke-linejoin="round" stroke-linecap="round" filter="url(#bl3_0)"/><polyline points="546.9,335.0 541.9,344.9 539.0,354.9 536.5,360.9 533.0,366.8 527.5,372.8 523.5,380.0 521.5,384.0 518.1,392.7 514.1,400.7 511.1,410.6 510.1,420.6" fill="none" stroke="#c26f52" stroke-width="4.5" stroke-linejoin="round" stroke-linecap="round" filter="url(#bl1_0)"/><polygon points="325.0,345.0 345.0,340.0 372.0,338.0 392.0,342.0 394.0,372.0 386.0,392.0 365.0,397.0 352.0,378.0 340.0,362.0" fill="#ce8364" filter="url(#bl3_0)"/><polygon points="370.0,347.0 386.0,350.0 388.0,362.0 381.0,370.0 372.0,366.0 368.0,355.0" fill="#dea17c" filter="url(#bl3_0)"/><polyline points="338.8,358.9 346.8,365.8 352.7,374.8 358.7,384.7 363.9,393.7" fill="none" stroke="#bc6549" stroke-width="14" stroke-linejoin="round" stroke-linecap="round" filter="url(#bl3_0)"/><polyline points="338.8,358.9 346.8,365.8 352.7,374.8 358.7,384.7 363.9,393.7" fill="none" stroke="#a5412c" stroke-width="6" stroke-linejoin="round" stroke-linecap="round" filter="url(#bl1_5)"/><polyline points="363.9,393.7 366.0,389.0 369.5,385.5 374.0,381.5 378.0,377.5 381.5,373.5 384.5,368.5" fill="none" stroke="#b85d42" stroke-width="4" stroke-linejoin="round" stroke-linecap="round" filter="url(#bl1_2)"/><polyline points="386.0,372.0 386.3,377.0 384.3,381.0 381.8,383.5 381.3,391.0 376.5,391.5 376.5,396.0 384.8,396.0" fill="none" stroke="#a5412c" stroke-width="4" stroke-linejoin="round" stroke-linecap="round" filter="url(#bl0_6)"/><polyline points="389.5,377.0 391.0,381.0 392.5,388.0 392.5,394.0 391.0,397.5" fill="none" stroke="#c26f52" stroke-width="5" stroke-linejoin="round" stroke-linecap="round" filter="url(#bl1_5)"/><polyline points="243.3,372.8 251.3,366.8 263.2,362.9 279.1,357.9" fill="none" stroke="#ebba91" stroke-width="16" stroke-linejoin="round" stroke-linecap="round" filter="url(#bl4_0)"/><polyline points="293.0,353.9 304.0,350.9 316.9,351.9 328.9,354.9 338.8,358.9" fill="none" stroke="#d18969" stroke-width="24" stroke-linejoin="round" stroke-linecap="round" filter="url(#bl4_0)"/><polyline points="237.0,379.0 243.3,372.8 251.3,366.8 263.2,362.9 279.1,357.9 293.0,353.9 304.0,350.9 316.9,351.9 328.9,354.9 338.8,358.9" fill="none" stroke="#d18969" stroke-width="9" stroke-linejoin="round" stroke-linecap="round" filter="url(#bl2_2)"/><polyline points="237.0,379.0 243.3,372.8 251.3,366.8 263.2,362.9 279.1,357.9 293.0,353.9 304.0,350.9 316.9,351.9 328.9,354.9 338.8,358.9" fill="none" stroke="#b3563c" stroke-width="4.5" stroke-linejoin="round" stroke-linecap="round" filter="url(#bl1_2)"/><polygon points="125.0,250.0 131.9,254.8 135.9,257.8 141.8,268.7 158.7,268.7 162.7,274.7 170.7,276.7 171.7,282.6 178.6,284.6 185.6,289.6 191.6,302.5 189.6,318.5 195.6,324.4 203.5,328.4 213.5,335.0 219.4,344.9 225.4,354.9 229.4,364.8 233.4,372.8 240.0,380.0 230.0,390.0 170.0,402.0 140.0,390.0 120.0,300.0" fill="#d89572" filter="url(#bl2_5)"/><polygon points="172.0,325.0 192.0,322.0 208.0,335.0 218.0,352.0 222.0,366.0 208.0,374.0 182.0,370.0 168.0,355.0 166.0,338.0" fill="#e4ad86" filter="url(#bl4_0)"/><polyline points="131.0,256.0 130.0,265.0 133.0,275.0 131.0,283.0 132.0,292.0 136.0,302.5" fill="none" stroke="#e1a781" stroke-width="8" stroke-linejoin="round" stroke-linecap="round" filter="url(#bl2_5)"/><polyline points="136.0,302.5 140.0,312.5 145.0,322.4 149.0,335.0 151.0,345.0 152.0,358.0 153.0,369.0 149.0,376.0 148.0,383.0" fill="none" stroke="#c26f52" stroke-width="24" stroke-linejoin="round" stroke-linecap="round" filter="url(#bl5_0)"/><polyline points="136.0,302.5 140.0,312.5 145.0,322.4 149.0,335.0" fill="none" stroke="#bf6a4d" stroke-width="10" stroke-linejoin="round" stroke-linecap="round" filter="url(#bl2_5)"/><polyline points="149.0,335.0 151.0,345.0 152.0,358.0 153.0,369.0 149.0,376.0 148.0,383.0" fill="none" stroke="#a5412c" stroke-width="15" stroke-linejoin="round" stroke-linecap="round" filter="url(#bl2_5)"/><polyline points="149.0,335.0 151.0,345.0 152.0,358.0 153.0,369.0 149.0,376.0 148.0,383.0" fill="none" stroke="#9e3624" stroke-width="5" stroke-linejoin="round" stroke-linecap="round" filter="url(#bl1_2)"/><polyline points="148.0,383.0 156.0,388.0 164.0,394.0 176.0,396.0 182.0,393.0 190.0,387.0 198.0,382.0 214.0,381.0 227.0,379.0 237.0,379.0" fill="none" stroke="#bf6a4d" stroke-width="16" stroke-linejoin="round" stroke-linecap="round" filter="url(#bl3_5)"/><polyline points="148.0,383.0 156.0,388.0 164.0,394.0 176.0,396.0 182.0,393.0 190.0,387.0 198.0,382.0" fill="none" stroke="#a94630" stroke-width="7" stroke-linejoin="round" stroke-linecap="round" filter="url(#bl1_8)"/><polygon points="303.0,104.0 321.0,104.0 321.0,116.0 303.0,116.0" fill="#c26f52" filter="url(#bl0_8)"/><polygon points="370.0,139.0 375.0,139.0 375.0,144.0 370.0,144.0" fill="#b85d42"/><polygon points="376.0,400.0 386.0,400.0 386.0,405.0 376.0,405.0" fill="#ac4c34"/><polygon points="448.0,450.0 452.0,450.0 452.0,456.0 448.0,456.0" fill="#b05138"/><polygon points="490.0,451.0 494.0,451.0 494.0,460.0 490.0,460.0" fill="#b05138"/><polygon points="603.0,350.0 607.0,350.0 607.0,355.0 603.0,355.0" fill="#830c0d"/><polygon points="452.0,460.0 497.0,460.0 497.0,500.0 452.0,500.0" fill="#f1ca9f" filter="url(#bl2_0)"/><polygon points="458.0,458.3 459.6,458.3 459.6,460.0 458.0,460.0" fill="#b05138"/><polyline points="455.0,465.0 462.8,465.0 469.8,467.5 475.7,469.0 484.7,468.0 489.7,465.5 494.0,465.5" fill="none" stroke="#c67658" stroke-width="4.5" stroke-linejoin="round" stroke-linecap="round" filter="url(#bl1_0)"/></g><polygon points="174.0,296.8 175.5,295.0 179.0,294.6 182.5,295.2 184.0,297.0 183.5,299.5 181.0,301.3 177.0,301.5 174.5,300.0" fill="#fdfbe6"/></g></g>
<circle cx="156.9" cy="357.7" r="7.1" fill="#0000ff"/>
<g stroke="#333" stroke-width="2.8"><line x1="199.8" x2="199.8" y1="517.2" y2="525.5"/><line x1="303.5" x2="303.5" y1="517.2" y2="525.5"/><line x1="407.2" x2="407.2" y1="517.2" y2="525.5"/><line x1="510.9" x2="510.9" y1="517.2" y2="525.5"/><line x1="614.6" x2="614.6" y1="517.2" y2="525.5"/><line x1="95.4" x2="102.6" y1="92.7" y2="92.7"/><line x1="95.4" x2="102.6" y1="213.2" y2="213.2"/><line x1="95.4" x2="102.6" y1="333.6" y2="333.6"/><line x1="95.4" x2="102.6" y1="454.1" y2="454.1"/></g>
<g font-size="23.3" fill="#4d4d4d"><text x="199.8" y="547.8" text-anchor="middle">120</text><text x="303.5" y="547.8" text-anchor="middle">130</text><text x="407.2" y="547.8" text-anchor="middle">140</text><text x="510.9" y="547.8" text-anchor="middle">150</text><text x="614.6" y="547.8" text-anchor="middle">160</text><text x="89.1" y="102.4" text-anchor="end">-10</text><text x="89.1" y="222.8" text-anchor="end">-20</text><text x="89.1" y="343.3" text-anchor="end">-30</text><text x="89.1" y="463.8" text-anchor="end">-40</text></g>
<text x="365.8" y="582.5" font-size="27.8" text-anchor="middle" fill="#000">lon</text>
<text transform="translate(34.7,300.6) rotate(-90)" font-size="27.8" text-anchor="middle" fill="#000">lat</text>
<text x="362.1" y="37.6" font-size="26.5" text-anchor="middle" fill="#000">Maxent on habitat suitability</text>
<text x="365.7" y="65.3" font-size="26.5" text-anchor="middle" fill="#000">of Polyphagous shot hole borer</text>
<text x="-0.3" y="27.4" font-size="22.8" font-weight="bold" fill="#000">a</text>
<text x="673.5" y="116.5" font-size="29.1" fill="#000">Species</text>
<rect x="674.0" y="133.7" width="45.4" height="45.4" fill="#e6e6e6"/>
<circle cx="696.7" cy="156.3" r="7.1" fill="#0000ff"/>
<text x="734.0" y="166.2" font-size="23.3" fill="#000">Euwallacea Fornicatus</text>
<text x="673.5" y="262.7" font-size="29.1" fill="#000">Suitability</text>
<rect x="674.0" y="279.8" width="45.4" height="230" fill="url(#cb)"/>
<g stroke="#fff" stroke-opacity="0.6" stroke-width="1.3"><line x1="674.0" x2="683.1" y1="304.1" y2="304.1"/><line x1="710.3" x2="719.4" y1="304.1" y2="304.1"/><line x1="674.0" x2="683.1" y1="355.3" y2="355.3"/><line x1="710.3" x2="719.4" y1="355.3" y2="355.3"/><line x1="674.0" x2="683.1" y1="406.3" y2="406.3"/><line x1="710.3" x2="719.4" y1="406.3" y2="406.3"/><line x1="674.0" x2="683.1" y1="457.6" y2="457.6"/><line x1="710.3" x2="719.4" y1="457.6" y2="457.6"/></g>
<g font-size="23.3" fill="#000"><text x="734.3" y="312.4">0.8</text><text x="734.3" y="365.5">0.6</text><text x="734.3" y="416.4">0.4</text><text x="734.3" y="467.8">0.2</text></g>
</g>
<g id="panel-b">
<clipPath id="clip-b"><rect x="1107.1" y="82.3" width="539.3" height="434.9"/></clipPath>
<rect x="1107.1" y="82.3" width="539.3" height="434.9" fill="#e6e6e6"/>
<g stroke="#fff" clip-path="url(#clip-b)"><line x1="1152.7" x2="1152.7" y1="82.3" y2="517.2" stroke-width="1.1"/><line x1="1258.9" x2="1258.9" y1="82.3" y2="517.2" stroke-width="1.1"/><line x1="1365.1" x2="1365.1" y1="82.3" y2="517.2" stroke-width="1.1"/><line x1="1471.2" x2="1471.2" y1="82.3" y2="517.2" stroke-width="1.1"/><line x1="1577.4" x2="1577.4" y1="82.3" y2="517.2" stroke-width="1.1"/><line x1="1107.1" x2="1646.4" y1="152.9" y2="152.9" stroke-width="1.1"/><line x1="1107.1" x2="1646.4" y1="273.4" y2="273.4" stroke-width="1.1"/><line x1="1107.1" x2="1646.4" y1="393.8" y2="393.8" stroke-width="1.1"/><line x1="1107.1" x2="1646.4" y1="514.3" y2="514.3" stroke-width="1.1"/><line x1="1205.8" x2="1205.8" y1="82.3" y2="517.2" stroke-width="2.2"/><line x1="1312.0" x2="1312.0" y1="82.3" y2="517.2" stroke-width="2.2"/><line x1="1418.2" x2="1418.2" y1="82.3" y2="517.2" stroke-width="2.2"/><line x1="1524.3" x2="1524.3" y1="82.3" y2="517.2" stroke-width="2.2"/><line x1="1630.5" x2="1630.5" y1="82.3" y2="517.2" stroke-width="2.2"/><line x1="1107.1" x2="1646.4" y1="92.7" y2="92.7" stroke-width="2.2"/><line x1="1107.1" x2="1646.4" y1="213.2" y2="213.2" stroke-width="2.2"/><line x1="1107.1" x2="1646.4" y1="333.6" y2="333.6" stroke-width="2.2"/><line x1="1107.1" x2="1646.4" y1="454.1" y2="454.1" stroke-width="2.2"/></g>
<g clip-path="url(#clip-b)"><clipPath id="land-b"><path d="M1199.5 215.0 L1211.6 208.4 L1223.8 194.5 L1230.0 184.5 L1231.0 178.6 L1236.1 172.6 L1239.2 177.0 L1242.9 174.0 L1245.2 167.6 L1250.0 168.0 L1254.4 158.7 L1262.5 151.7 L1269.7 141.8 L1278.9 139.2 L1287.0 142.8 L1293.1 150.7 L1301.2 154.7 L1307.4 151.7 L1306.3 142.8 L1312.5 133.8 L1315.6 126.8 L1321.7 119.9 L1329.8 117.9 L1338.0 116.9 L1348.1 114.9 L1358.3 116.9 L1368.5 119.9 L1372.6 114.9 L1375.7 122.9 L1382.7 116.9 L1384.8 120.9 L1380.7 130.8 L1374.6 132.8 L1372.6 140.8 L1370.8 144.7 L1371.8 153.7 L1379.9 159.7 L1390.1 165.6 L1400.2 174.6 L1410.5 180.6 L1420.6 184.5 L1426.8 180.6 L1431.9 170.6 L1435.0 154.7 L1435.0 130.8 L1437.9 114.9 L1441.0 104.0 L1443.5 102.0 L1447.1 106.9 L1451.2 116.9 L1454.9 125.8 L1456.4 137.8 L1460.3 143.7 L1466.5 142.4 L1471.2 146.7 L1473.7 154.7 L1474.1 166.6 L1479.7 174.6 L1482.8 184.5 L1484.8 194.5 L1489.9 202.4 L1500.1 208.4 L1507.2 215.0 L1512.4 221.0 L1516.5 228.9 L1520.4 238.9 L1525.6 239.9 L1531.7 246.8 L1538.8 258.8 L1547.0 266.7 L1553.1 276.7 L1557.1 275.7 L1557.5 286.6 L1558.1 300.6 L1561.2 312.5 L1562.8 320.5 L1561.2 335.0 L1559.2 335.0 L1556.1 344.9 L1553.1 354.9 L1550.6 360.9 L1547.0 366.8 L1541.3 372.8 L1537.2 380.0 L1535.2 384.0 L1531.7 392.7 L1527.6 400.7 L1524.5 410.6 L1523.5 420.6 L1518.4 422.5 L1508.3 425.5 L1496.1 430.5 L1485.8 436.5 L1482.8 441.4 L1477.6 438.5 L1474.7 434.5 L1471.6 430.5 L1465.5 432.5 L1461.4 436.5 L1455.3 439.5 L1451.2 437.5 L1441.0 434.5 L1430.9 433.5 L1426.8 429.5 L1420.6 424.5 L1417.6 418.6 L1414.6 408.6 L1410.5 400.7 L1409.3 398.5 L1403.6 399.5 L1399.5 399.5 L1401.6 397.5 L1403.1 394.0 L1403.1 388.0 L1401.6 381.0 L1400.0 377.0 L1398.5 381.0 L1396.2 385.0 L1395.4 390.0 L1395.2 396.0 L1386.7 396.0 L1386.7 391.5 L1391.6 391.0 L1392.2 383.5 L1394.7 381.0 L1396.8 377.0 L1396.5 372.0 L1394.9 368.5 L1391.8 373.5 L1388.3 377.5 L1384.2 381.5 L1379.6 385.5 L1376.0 389.0 L1373.8 393.7 L1368.5 384.7 L1362.4 374.8 L1356.3 365.8 L1348.1 358.9 L1338.0 354.9 L1325.7 351.9 L1312.5 350.9 L1301.2 353.9 L1287.0 357.9 L1270.7 362.9 L1258.5 366.8 L1250.3 372.8 L1244.2 378.8 L1234.1 378.8 L1219.8 380.8 L1203.4 381.8 L1195.4 386.7 L1187.2 392.7 L1181.1 395.7 L1168.8 393.7 L1160.7 387.7 L1152.6 382.8 L1153.6 375.8 L1157.7 368.8 L1156.9 358.0 L1155.6 344.9 L1153.6 335.0 L1149.5 322.4 L1144.4 312.5 L1140.4 302.5 L1136.3 294.6 L1137.3 290.6 L1134.2 282.7 L1140.4 280.7 L1137.3 274.7 L1135.4 264.7 L1136.9 254.8 L1138.3 247.8 L1141.4 239.9 L1152.6 231.9 L1164.7 225.9 L1181.1 221.0ZM1468.4 464.4 L1468.4 468.4 L1471.5 472.9 L1474.1 479.9 L1474.6 486.8 L1478.2 489.8 L1483.2 494.8 L1486.3 497.3 L1491.4 497.8 L1493.9 493.8 L1496.5 489.8 L1498.0 486.3 L1502.6 490.8 L1503.6 489.3 L1501.6 485.8 L1504.1 481.8 L1505.6 474.9 L1506.1 464.9 L1502.6 464.9 L1497.5 467.4 L1488.3 468.4 L1482.3 466.9 L1475.1 464.4ZM1381.1 140.0 L1383.7 140.0 L1383.7 143.0 L1381.1 143.0ZM1388.1 401.7 L1395.2 401.7 L1395.2 403.8 L1388.1 403.8ZM1461.0 451.5 L1462.6 451.5 L1462.6 454.6 L1461.0 454.6ZM1504.2 452.0 L1505.8 452.0 L1505.8 459.0 L1504.2 459.0ZM1620.2 351.0 L1621.5 351.0 L1621.5 354.0 L1620.2 354.0ZM1470.2 458.3 L1471.8 458.3 L1471.8 460.0 L1470.2 460.0ZM1315.6 108.8 L1319.7 108.0 L1322.7 109.2 L1321.7 111.0 L1317.1 111.0ZM1331.9 105.5 L1336.0 104.5 L1340.1 106.0 L1342.2 109.0 L1339.1 110.0 L1335.0 108.5 L1332.5 107.5Z"/></clipPath><g clip-path="url(#land-b)"><rect x="1107.1" y="82.3" width="539.3" height="434.9" fill="#fffdd5"/><polyline points="1307.4,151.7 1306.3,142.8 1312.5,133.8 1315.6,126.8 1321.7,119.9 1329.8,117.9 1338.0,116.9 1339.9,111.9 1334.9,104.9 1338.9,104.0 1343.0,110.9 1348.1,114.9 1358.3,116.9 1368.5,119.9 1372.6,114.9 1375.7,122.9 1382.7,116.9 1384.8,120.9 1380.7,130.8 1374.6,132.8 1372.6,140.8" fill="none" stroke="#fdf4cb" stroke-width="44" stroke-linejoin="round" stroke-linecap="round" filter="url(#bl8_0)"/><polyline points="1223.8,194.5 1230.0,184.5 1231.0,178.6 1236.1,172.6 1245.2,167.6 1254.4,158.7 1262.5,151.7 1269.7,141.8 1278.9,139.2 1287.0,142.8 1293.1,150.7 1301.2,154.7 1307.4,151.7" fill="none" stroke="#fcf3c9" stroke-width="30" stroke-linejoin="round" stroke-linecap="round" filter="url(#bl7_0)"/><polygon points="1431.3,100.0 1462.0,100.0 1482.5,160.0 1513.2,210.0 1543.9,255.0 1564.4,290.0 1566.4,340.0 1554.1,370.0 1528.5,420.0 1513.2,400.0 1518.3,330.0 1492.7,290.0 1467.1,250.0 1441.5,215.0 1426.1,185.0" fill="#fcf3c9" filter="url(#bl10_0)"/><polyline points="1456.4,137.8 1460.3,143.7 1466.5,142.4 1471.2,146.7 1473.7,154.7 1474.1,166.6 1479.7,174.6 1482.8,184.5 1484.8,194.5 1489.9,202.4 1500.1,208.4 1507.2,215.0 1512.4,221.0 1516.5,228.9 1520.4,238.9 1525.6,239.9 1531.7,246.8 1538.8,258.8 1547.0,266.7 1553.1,276.7 1557.1,275.7 1557.5,286.6 1558.1,300.6 1561.2,312.5 1562.8,320.5 1561.2,335.0 1556.1,344.9 1553.1,354.9 1550.6,360.9 1547.0,366.8 1541.3,372.8 1537.2,380.0 1535.2,384.0 1531.7,392.7 1527.6,400.7 1524.5,410.6 1523.5,420.6" fill="none" stroke="#faeabe" stroke-width="30" stroke-linejoin="round" stroke-linecap="round" filter="url(#bl6_0)"/><polygon points="1435.4,96.0 1451.7,96.0 1457.9,125.0 1455.8,140.0 1437.4,138.0 1434.3,120.0" fill="#f8e2b4" filter="url(#bl4_0)"/><polygon points="1377.0,116.0 1386.2,115.0 1386.2,127.0 1379.0,130.0 1377.0,124.0" fill="#f2cea2" filter="url(#bl1_5)"/><polyline points="1456.4,137.8 1460.3,143.7 1466.5,142.4 1471.2,146.7 1473.7,154.7 1474.1,166.6 1479.7,174.6 1482.8,184.5 1484.8,194.5 1489.9,202.4 1500.1,208.4 1507.2,215.0 1512.4,221.0 1516.5,228.9 1520.4,238.9 1525.6,239.9 1531.7,246.8 1538.8,258.8 1547.0,266.7 1553.1,276.7 1557.1,275.7 1557.5,286.6 1558.1,300.6 1561.2,312.5 1562.8,320.5 1561.2,335.0" fill="none" stroke="#f4d4a8" stroke-width="12" stroke-linejoin="round" stroke-linecap="round" filter="url(#bl2_5)"/><polyline points="1447.1,106.9 1451.2,116.9 1454.9,125.8 1456.4,137.8" fill="none" stroke="#ac4c34" stroke-width="5" stroke-linejoin="round" stroke-linecap="round" filter="url(#bl1_0)"/><polyline points="1471.2,146.7 1473.7,154.7 1474.1,166.6 1479.7,174.6 1482.8,184.5 1484.8,194.5 1489.9,202.4 1500.1,208.4 1507.2,215.0 1512.4,221.0 1516.5,228.9" fill="none" stroke="#c67658" stroke-width="7" stroke-linejoin="round" stroke-linecap="round" filter="url(#bl1_4)"/><polyline points="1471.2,146.7 1473.7,154.7 1474.1,166.6 1479.7,174.6 1482.8,184.5 1484.8,194.5 1489.9,202.4 1500.1,208.4 1507.2,215.0" fill="none" stroke="#8a1a14" stroke-width="4.5" stroke-linejoin="round" stroke-linecap="round" filter="url(#bl0_8)"/><polyline points="1516.5,228.9 1520.4,238.9 1525.6,239.9 1531.7,246.8 1538.8,258.8 1547.0,266.7 1553.1,276.7 1557.1,275.7 1557.5,286.6 1558.1,300.6" fill="none" stroke="#dea17c" stroke-width="5" stroke-linejoin="round" stroke-linecap="round" filter="url(#bl1_2)"/><polyline points="1516.5,228.9 1520.4,238.9 1525.6,239.9 1531.7,246.8 1538.8,258.8 1547.0,266.7 1553.1,276.7 1557.1,275.7 1557.5,286.6 1558.1,300.6" fill="none" stroke="#bf6a4d" stroke-width="3" stroke-linejoin="round" stroke-linecap="round" filter="url(#bl0_8)"/><polyline points="1558.1,300.6 1561.2,312.5 1562.8,320.5 1561.2,335.0 1556.1,344.9 1553.1,354.9 1550.6,360.9 1547.0,366.8 1541.3,372.8 1537.2,380.0" fill="none" stroke="#f8e2b4" stroke-width="34" stroke-linejoin="round" stroke-linecap="round" filter="url(#bl7_0)"/><polyline points="1558.1,300.6 1561.2,312.5 1562.8,320.5 1561.2,335.0 1556.1,344.9 1553.1,354.9 1550.6,360.9 1547.0,366.8 1541.3,372.8 1537.2,380.0 1535.2,384.0 1531.7,392.7 1527.6,400.7 1524.5,410.6 1523.5,420.6" fill="none" stroke="#eec096" stroke-width="18" stroke-linejoin="round" stroke-linecap="round" filter="url(#bl3_5)"/><polyline points="1558.1,300.6 1561.2,312.5 1562.8,320.5 1561.2,335.0 1556.1,344.9 1553.1,354.9 1550.6,360.9 1547.0,366.8 1541.3,372.8 1537.2,380.0 1535.2,384.0 1531.7,392.7 1527.6,400.7 1524.5,410.6 1523.5,420.6" fill="none" stroke="#d48f6e" stroke-width="8" stroke-linejoin="round" stroke-linecap="round" filter="url(#bl1_8)"/><polyline points="1558.1,300.6 1561.2,312.5 1562.8,320.5 1561.2,335.0 1556.1,344.9 1553.1,354.9 1550.6,360.9 1547.0,366.8 1541.3,372.8 1537.2,380.0 1535.2,384.0 1531.7,392.7 1527.6,400.7 1524.5,410.6 1523.5,420.6" fill="none" stroke="#b85d42" stroke-width="3.5" stroke-linejoin="round" stroke-linecap="round" filter="url(#bl0_8)"/><polyline points="1401.6,397.5 1403.6,399.5 1409.3,398.5 1411.8,402.0 1414.6,408.6 1417.6,418.6 1420.6,424.5 1426.8,429.5 1430.9,433.5 1441.0,434.5 1451.2,437.5 1455.3,439.5 1461.4,436.5 1465.5,432.5 1471.6,430.5 1474.7,434.5 1477.6,438.5 1482.8,441.4 1485.8,436.5 1496.1,430.5 1508.3,425.5 1518.4,422.5 1523.5,420.6" fill="none" stroke="#fbedc2" stroke-width="6" stroke-linejoin="round" stroke-linecap="round" filter="url(#bl2_0)"/><polygon points="1464.0,460.0 1510.1,460.0 1510.1,500.0 1464.0,500.0" fill="#fbedc2" filter="url(#bl2_0)"/><polyline points="1467.1,465.0 1475.1,465.0 1482.3,467.5 1488.3,469.0 1497.5,468.0 1502.6,465.5 1507.0,465.5" fill="none" stroke="#f6dbae" stroke-width="4" stroke-linejoin="round" stroke-linecap="round" filter="url(#bl1_2)"/><polygon points="1311.5,103.0 1344.2,103.0 1344.2,112.0 1311.5,112.0" fill="#eec096" filter="url(#bl0_6)"/><polygon points="1380.1,139.0 1385.2,139.0 1385.2,144.0 1380.1,144.0" fill="#f6dbae"/><polygon points="1386.2,400.0 1396.5,400.0 1396.5,405.0 1386.2,405.0" fill="#fcf3c9"/><polygon points="1459.9,450.0 1464.0,450.0 1464.0,456.0 1459.9,456.0" fill="#d69270"/><polygon points="1502.9,451.0 1507.0,451.0 1507.0,460.0 1502.9,460.0" fill="#e6b089"/><polygon points="1618.6,350.0 1622.7,350.0 1622.7,355.0 1618.6,355.0" fill="#830c0d"/><g filter="url(#grain)"><polygon points="1377.0,116.0 1386.2,115.0 1386.2,127.0 1379.0,130.0 1377.0,124.0" fill="#f2cea2" filter="url(#bl1_5)"/><polyline points="1447.1,106.9 1451.2,116.9 1454.9,125.8 1456.4,137.8" fill="none" stroke="#ac4c34" stroke-width="5" stroke-linejoin="round" stroke-linecap="round" filter="url(#bl1_0)"/><polyline points="1471.2,146.7 1473.7,154.7 1474.1,166.6 1479.7,174.6 1482.8,184.5 1484.8,194.5 1489.9,202.4 1500.1,208.4 1507.2,215.0 1512.4,221.0 1516.5,228.9" fill="none" stroke="#c67658" stroke-width="7" stroke-linejoin="round" stroke-linecap="round" filter="url(#bl1_4)"/><polyline points="1471.2,146.7 1473.7,154.7 1474.1,166.6 1479.7,174.6 1482.8,184.5 1484.8,194.5 1489.9,202.4 1500.1,208.4 1507.2,215.0" fill="none" stroke="#8a1a14" stroke-width="4.5" stroke-linejoin="round" stroke-linecap="round" filter="url(#bl0_8)"/><polyline points="1516.5,228.9 1520.4,238.9 1525.6,239.9 1531.7,246.8 1538.8,258.8 1547.0,266.7 1553.1,276.7 1557.1,275.7 1557.5,286.6 1558.1,300.6" fill="none" stroke="#dea17c" stroke-width="5" stroke-linejoin="round" stroke-linecap="round" filter="url(#bl1_2)"/><polyline points="1516.5,228.9 1520.4,238.9 1525.6,239.9 1531.7,246.8 1538.8,258.8 1547.0,266.7 1553.1,276.7 1557.1,275.7 1557.5,286.6 1558.1,300.6" fill="none" stroke="#bf6a4d" stroke-width="3" stroke-linejoin="round" stroke-linecap="round" filter="url(#bl0_8)"/><polyline points="1558.1,300.6 1561.2,312.5 1562.8,320.5 1561.2,335.0 1556.1,344.9 1553.1,354.9 1550.6,360.9 1547.0,366.8 1541.3,372.8 1537.2,380.0 1535.2,384.0 1531.7,392.7 1527.6,400.7 1524.5,410.6 1523.5,420.6" fill="none" stroke="#eec096" stroke-width="18" stroke-linejoin="round" stroke-linecap="round" filter="url(#bl3_5)"/><polyline points="1558.1,300.6 1561.2,312.5 1562.8,320.5 1561.2,335.0 1556.1,344.9 1553.1,354.9 1550.6,360.9 1547.0,366.8 1541.3,372.8 1537.2,380.0 1535.2,384.0 1531.7,392.7 1527.6,400.7 1524.5,410.6 1523.5,420.6" fill="none" stroke="#d48f6e" stroke-width="8" stroke-linejoin="round" stroke-linecap="round" filter="url(#bl1_8)"/><polyline points="1558.1,300.6 1561.2,312.5 1562.8,320.5 1561.2,335.0 1556.1,344.9 1553.1,354.9 1550.6,360.9 1547.0,366.8 1541.3,372.8 1537.2,380.0 1535.2,384.0 1531.7,392.7 1527.6,400.7 1524.5,410.6 1523.5,420.6" fill="none" stroke="#b85d42" stroke-width="3.5" stroke-linejoin="round" stroke-linecap="round" filter="url(#bl0_8)"/><polygon points="1311.5,103.0 1344.2,103.0 1344.2,112.0 1311.5,112.0" fill="#eec096" filter="url(#bl0_6)"/><polygon points="1459.9,450.0 1464.0,450.0 1464.0,456.0 1459.9,456.0" fill="#d69270"/><polygon points="1502.9,451.0 1507.0,451.0 1507.0,460.0 1502.9,460.0" fill="#e6b089"/><polygon points="1618.6,350.0 1622.7,350.0 1622.7,355.0 1618.6,355.0" fill="#830c0d"/></g></g></g>
<circle cx="1554.9" cy="293.6" r="7.1" fill="#1ff01a"/>
<g stroke="#333" stroke-width="2.8"><line x1="1205.8" x2="1205.8" y1="517.2" y2="525.5"/><line x1="1312.0" x2="1312.0" y1="517.2" y2="525.5"/><line x1="1418.2" x2="1418.2" y1="517.2" y2="525.5"/><line x1="1524.3" x2="1524.3" y1="517.2" y2="525.5"/><line x1="1630.5" x2="1630.5" y1="517.2" y2="525.5"/><line x1="1099.9" x2="1107.1" y1="92.7" y2="92.7"/><line x1="1099.9" x2="1107.1" y1="213.2" y2="213.2"/><line x1="1099.9" x2="1107.1" y1="333.6" y2="333.6"/><line x1="1099.9" x2="1107.1" y1="454.1" y2="454.1"/></g>
<g font-size="23.3" fill="#4d4d4d"><text x="1205.8" y="547.8" text-anchor="middle">120</text><text x="1312.0" y="547.8" text-anchor="middle">130</text><text x="1418.2" y="547.8" text-anchor="middle">140</text><text x="1524.3" y="547.8" text-anchor="middle">150</text><text x="1630.5" y="547.8" text-anchor="middle">160</text><text x="1093.6" y="102.4" text-anchor="end">-10</text><text x="1093.6" y="222.8" text-anchor="end">-20</text><text x="1093.6" y="343.3" text-anchor="end">-30</text><text x="1093.6" y="463.8" text-anchor="end">-40</text></g>
<text x="1376.5" y="582.5" font-size="27.8" text-anchor="middle" fill="#000">lon</text>
<text transform="translate(1039.2,300.6) rotate(-90)" font-size="27.8" text-anchor="middle" fill="#000">lat</text>
<text x="1372.8" y="37.6" font-size="26.5" text-anchor="middle" fill="#000">Maxent on habitat suitability</text>
<text x="1376.3" y="65.3" font-size="26.5" text-anchor="middle" fill="#000">of Tea shot hole borer</text>
<text x="1004.7" y="27.4" font-size="22.8" font-weight="bold" fill="#000">b</text>
<text x="1689.9" y="116.5" font-size="29.1" fill="#000">Species</text>
<rect x="1690.4" y="133.7" width="45.4" height="45.4" fill="#e6e6e6"/>
<circle cx="1713.1" cy="156.3" r="7.1" fill="#1ff01a"/>
<text x="1750.4" y="166.2" font-size="23.3" fill="#000">Euwallacea Perbrevis</text>
<text x="1689.9" y="262.7" font-size="29.1" fill="#000">Suitability</text>
<rect x="1690.4" y="279.8" width="45.4" height="230" fill="url(#cb)"/>
<g stroke="#fff" stroke-opacity="0.6" stroke-width="1.3"><line x1="1690.4" x2="1699.5" y1="319.0" y2="319.0"/><line x1="1726.7" x2="1735.8" y1="319.0" y2="319.0"/><line x1="1690.4" x2="1699.5" y1="382.7" y2="382.7"/><line x1="1726.7" x2="1735.8" y1="382.7" y2="382.7"/><line x1="1690.4" x2="1699.5" y1="446.4" y2="446.4"/><line x1="1726.7" x2="1735.8" y1="446.4" y2="446.4"/></g>
<g font-size="23.3" fill="#000"><text x="1750.7" y="327.3">0.75</text><text x="1750.7" y="390.9">0.50</text><text x="1750.7" y="454.7">0.25</text></g>
</g>
</svg></body></html>
